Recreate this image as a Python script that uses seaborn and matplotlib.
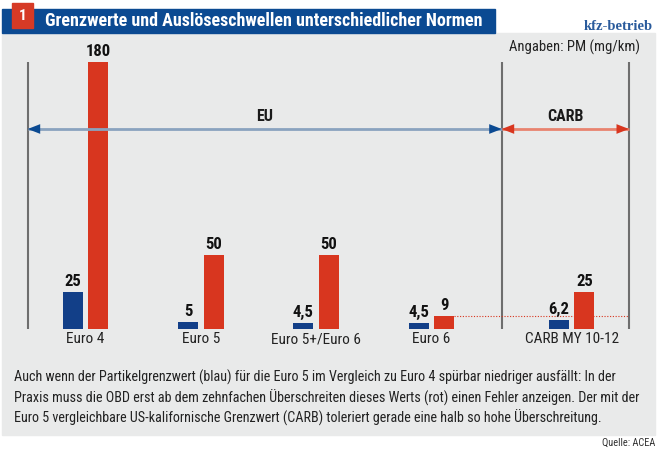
import numpy as np
import pandas as pd
import seaborn as sns
import matplotlib.pyplot as plt
from matplotlib.patches import Rectangle

# Werte aus der Grafik (PM in mg/km)
categories = ["Euro 4", "Euro 5", "Euro 5+/Euro 6", "Euro 6", "CARB MY 10-12"]
limit_values = [25, 5, 4.5, 4.5, 6.2]        # Partikelgrenzwert (blau)
obd_thresholds = [180, 50, 50, 9, 25]        # OBD-Ausloeseschwelle (rot)
series_names = ["Grenzwert", "OBD-Schwelle"]

title = "Grenzwerte und Auslöseschwellen unterschiedlicher Normen"
caption_lines = [
    "Auch wenn der Partikelgrenzwert (blau) für die Euro 5 im Vergleich zu Euro 4 spürbar niedriger ausfällt: In der",
    "Praxis muss die OBD erst ab dem zehnfachen Überschreiten dieses Werts (rot) einen Fehler anzeigen. Der mit der",
    "Euro 5 vergleichbare US-kalifornische Grenzwert (CARB) toleriert gerade eine halb so hohe Überschreitung.",
]

BLUE = "#123f88"
RED = "#d8361f"
HEAD_BLUE = "#0b4a92"
PANEL = "#e9eaea"
LINE_GRAY = "#6e6e6e"

sns.set_style("white")
plt.rcParams["font.family"] = ["Roboto Condensed", "DejaVu Sans Condensed",
                               "Liberation Sans Narrow", "Roboto", "DejaVu Sans"]

W, H = 663, 454
fig = plt.figure(figsize=(W / 100, H / 100), dpi=100, facecolor="white")


def fx(x):
    return x / W


def fy(y):
    return 1 - y / H


# Hintergrund und Kopfzeile
fig.patches.append(Rectangle((fx(2), fy(435)), fx(653), (435 - 33) / H,
                             transform=fig.transFigure, color=PANEL, zorder=-5))
fig.patches.append(Rectangle((fx(2), fy(33)), fx(493), 24 / H,
                             transform=fig.transFigure, color=HEAD_BLUE, zorder=1))
fig.patches.append(Rectangle((fx(12), fy(28)), fx(21), 25 / H,
                             transform=fig.transFigure, color="#d63a26", zorder=2))
fig.text(fx(22.5), fy(16), "1", color="white", fontsize=11, fontweight="bold",
         ha="center", va="center", zorder=3)
title_txt = fig.text(fx(45), fy(21), title, color="white", fontsize=12.5,
                     fontweight="bold", ha="left", va="center", zorder=3)
brand_txt = fig.text(fx(653), fy(26), "kfz-betrieb", color="#2a5b9c", fontsize=12,
                     fontweight="bold", family=["Liberation Serif", "DejaVu Serif"],
                     ha="right", va="center")

# Diagrammbereich: px-Raster -> Datenkoordinaten
x0_px, scale_px = 85.5, 115.3     # Mitte Euro 4, Gruppenabstand
base_px, unit_px = 329.3, 1.4867  # Nulllinie, px je mg/km
ax_left, ax_right, ax_top = 10, 650, 40
ax = fig.add_axes([fx(ax_left), fy(base_px), (ax_right - ax_left) / W, (base_px - ax_top) / H])
ax.set_facecolor("none")
ax.set_zorder(2)

group_pos = [0, 1, 2, 3, 3 + 140.2 / scale_px]
df = pd.DataFrame({
    "pos": group_pos * 2,
    "wert": limit_values + obd_thresholds,
    "art": [series_names[0]] * len(categories) + [series_names[1]] * len(categories),
})

sns.barplot(data=df, x="pos", y="wert", hue="art", native_scale=True,
            width=0.444, gap=0.218, palette=[BLUE, RED], saturation=1,
            errorbar=None, legend=False, linewidth=0, ax=ax)

ax.set_xlim((ax_left - x0_px) / scale_px, (ax_right - x0_px) / scale_px)
ax.set_ylim(0, (base_px - ax_top) / unit_px)
ax.set_xticks(group_pos, categories)
ax.tick_params(axis="x", length=0, pad=2, labelsize=11, colors="#222222")
ax.set_yticks([])
ax.set_xlabel("")
ax.set_ylabel("")
sns.despine(ax=ax, left=True, bottom=True)


def fmt(v):
    return f"{v:g}".replace(".", ",")


for cont in ax.containers:
    ax.bar_label(cont, labels=[fmt(v) for v in cont.datavalues], padding=2,
                 fontsize=12, fontweight="bold", color="#111111")

# Trennlinien EU / CARB
x_left = (27.7 - x0_px) / scale_px
x_sep = (501.7 - x0_px) / scale_px
x_right = (629 - x0_px) / scale_px
top_line = max(obd_thresholds)
ax.vlines([x_left, x_sep, x_right], 0, top_line, color=LINE_GRAY, lw=1.5, zorder=1)

# Pfeile
y_arrow = (base_px - 129) / unit_px
y_label = (base_px - 117) / unit_px


def span_arrow(xa, xb, line_c, head_c, label):
    ax.plot([xa, xb], [y_arrow, y_arrow], color=line_c, lw=2, solid_capstyle="butt", zorder=2)
    d = 0.09
    for tip, tail in [(xa, xa + d), (xb, xb - d)]:
        ax.annotate("", xy=(tip, y_arrow), xytext=(tail, y_arrow),
                    arrowprops=dict(arrowstyle="-|>,head_length=0.9,head_width=0.35",
                                    color=head_c, lw=0, shrinkA=0, shrinkB=0), zorder=3)
    ax.text((xa + xb) / 2, y_label, label, ha="center", va="center",
            fontsize=11.5, fontweight="bold", color="#1a1a1a")


span_arrow(x_left, x_sep, "#8aa3bf", HEAD_BLUE, "EU")
span_arrow(x_sep, x_right, "#e8836f", RED, "CARB")

# gepunktete Linie ab Euro-6-Schwelle
euro6_bar = ax.containers[1][3]
ax.hlines(obd_thresholds[3], euro6_bar.get_x() + euro6_bar.get_width(), x_right,
          color=RED, lw=0.8, linestyles=(0, (1, 1.5)), zorder=1)

fig.text(fx(640), fy(47), "Angaben: PM (mg/km)", ha="right", va="center",
         fontsize=10.5, color="#222222")

cap_txts = []
for i, line in enumerate(caption_lines):
    cap_txts.append(fig.text(fx(14), fy(377 + i * 20.5), line, ha="left", va="center",
                             fontsize=10.5, color="#222222"))

fig.text(fx(655), fy(443), "Quelle: ACEA", ha="right", va="center",
         fontsize=7.5, color="#333333")

# Schriftgroessen an die Breiten der Vorlage anpassen
renderer = fig.canvas.get_renderer()


def fit(txt, target_px):
    w = txt.get_window_extent(renderer).width
    txt.set_fontsize(txt.get_fontsize() * target_px / w)


fit(title_txt, 440)
fit(brand_txt, 69)
widest = max(t.get_window_extent(renderer).width for t in cap_txts)
scale = 632 / widest
for t in cap_txts:
    t.set_fontsize(t.get_fontsize() * scale)

fig.savefig("out.png", dpi=100, facecolor="white")
